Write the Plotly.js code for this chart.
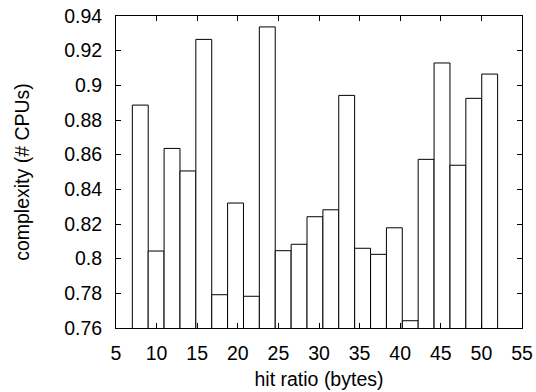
<!DOCTYPE html>
<html>
<head>
<meta charset="utf-8">
<script src="https://cdn.plot.ly/plotly-3.0.1.min.js"></script>
<style>html,body{margin:0;padding:0;background:#fff;}#chart{width:536px;height:392px;}</style>
</head>
<body>
<div id="chart"></div>
<script>
// Bar centres (hit ratio, bytes) and heights (complexity, # CPUs)
var hitRatio = [7.99, 9.94, 11.90, 13.86, 15.81, 17.77, 19.72, 21.68, 23.63, 25.59, 27.55, 29.50,
                31.46, 33.41, 35.37, 37.33, 39.28, 41.24, 43.19, 45.15, 47.11, 49.06, 51.02];
var complexity = [0.8886, 0.8044, 0.8636, 0.8506, 0.9265, 0.7792, 0.8321, 0.7783, 0.9337, 0.8046,
                  0.8083, 0.8242, 0.8282, 0.8942, 0.8060, 0.8025, 0.8178, 0.7642, 0.8573, 0.9129,
                  0.8539, 0.8925, 0.9065];
var barWidth = 1.956;
var xTickVals = [5, 10, 15, 20, 25, 30, 35, 40, 45, 50, 55];
var xTickText = ['5', '10', '15', '20', '25', '30', '35', '40', '45', '50', '55'];
var yTickVals = [0.76, 0.78, 0.80, 0.82, 0.84, 0.86, 0.88, 0.90, 0.92, 0.94];
var yTickText = ['0.76', '0.78', '0.8', '0.82', '0.84', '0.86', '0.88', '0.9', '0.92', '0.94'];

var font = {family: '"Liberation Sans", Arial, Helvetica, sans-serif', size: 19.5, color: '#000'};

var trace = {
  type: 'bar',
  x: hitRatio,
  y: complexity,
  width: barWidth,
  marker: {color: '#ffffff', line: {color: '#000000', width: 1}},
  hoverinfo: 'x+y'
};

var axisCommon = {
  showline: true, linecolor: '#000', linewidth: 1, mirror: 'ticks',
  ticks: 'inside', ticklen: 5, tickcolor: '#000', tickwidth: 1,
  showgrid: false, zeroline: false, tickfont: font, tickmode: 'array'
};

var layout = {
  width: 536, height: 392,
  margin: {l: 116, r: 14, t: 16, b: 64},
  paper_bgcolor: '#fff', plot_bgcolor: '#fff',
  font: font,
  showlegend: false,
  bargap: 0,
  xaxis: Object.assign({}, axisCommon, {
    range: [5, 55], tickvals: xTickVals, ticktext: xTickText, ticklabelstandoff: 8,
    title: {text: 'hit ratio (bytes)', font: font, standoff: 8}
  }),
  yaxis: Object.assign({}, axisCommon, {
    range: [0.76, 0.94], tickvals: yTickVals, ticktext: yTickText, ticklabelstandoff: 9,
    title: {text: 'complexity (# CPUs)', font: font, standoff: 29}
  })
};

Plotly.newPlot('chart', [trace], layout, {displayModeBar: false, staticPlot: true});
</script>
</body>
</html>
